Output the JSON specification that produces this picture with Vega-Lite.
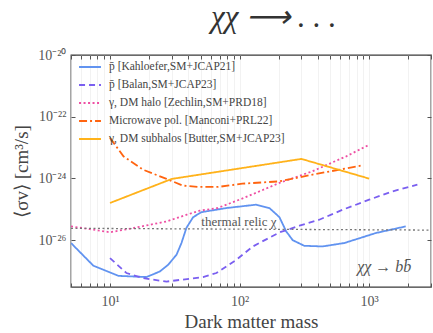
{
  "$schema": "https://vega.github.io/schema/vega-lite/v6.json",
  "width": 360,
  "height": 232,
  "autosize": "none",
  "padding": {"left": 71, "top": 55, "right": 2, "bottom": 46},
  "background": "white",
  "title": {
    "text": "χχ ⟶ . . .",
    "anchor": "start",
    "frame": "group",
    "dx": 140,
    "offset": 14,
    "font": "Liberation Serif",
    "fontStyle": "italic",
    "fontWeight": "normal",
    "fontSize": 31,
    "color": "#333333"
  },
  "config": {
    "view": {"stroke": "#3a3a3a", "strokeWidth": 1.3},
    "font": "Liberation Serif",
    "axis": {
      "domain": false,
      "labelFont": "Liberation Serif",
      "titleFont": "Liberation Serif",
      "labelColor": "#555555",
      "titleColor": "#444444",
      "tickColor": "#555555",
      "titleFontWeight": "normal"
    },
    "legend": {"labelFont": "Liberation Serif"}
  },
  "datasets": {
    "curves": [
      {"series": "Kahloefer", "mass": 5, "sv": 8.0e-27},
      {"series": "Kahloefer", "mass": 7.44, "sv": 1.47e-27},
      {"series": "Kahloefer", "mass": 11.6, "sv": 6.9e-28},
      {"series": "Kahloefer", "mass": 19.1, "sv": 6.3e-28},
      {"series": "Kahloefer", "mass": 24.3, "sv": 9.6e-28},
      {"series": "Kahloefer", "mass": 28.1, "sv": 1.58e-27},
      {"series": "Kahloefer", "mass": 32.6, "sv": 3.33e-27},
      {"series": "Kahloefer", "mass": 35.6, "sv": 8.0e-27},
      {"series": "Kahloefer", "mass": 38.9, "sv": 2.5e-26},
      {"series": "Kahloefer", "mass": 43.8, "sv": 5.5e-26},
      {"series": "Kahloefer", "mass": 50.7, "sv": 8.0e-26},
      {"series": "Kahloefer", "mass": 79, "sv": 1.09e-25},
      {"series": "Kahloefer", "mass": 134, "sv": 1.4e-25},
      {"series": "Kahloefer", "mass": 170, "sv": 1.09e-25},
      {"series": "Kahloefer", "mass": 203, "sv": 5.5e-26},
      {"series": "Kahloefer", "mass": 229, "sv": 1.9e-26},
      {"series": "Kahloefer", "mass": 257, "sv": 9.9e-27},
      {"series": "Kahloefer", "mass": 316, "sv": 6.5e-27},
      {"series": "Kahloefer", "mass": 437, "sv": 6.2e-27},
      {"series": "Kahloefer", "mass": 643, "sv": 8.0e-27},
      {"series": "Kahloefer", "mass": 1127, "sv": 1.69e-26},
      {"series": "Kahloefer", "mass": 1915, "sv": 2.77e-26},

      {"series": "Balan", "mass": 10, "sv": 2.6e-27},
      {"series": "Balan", "mass": 13.4, "sv": 8.5e-28},
      {"series": "Balan", "mass": 18.0, "sv": 5.8e-28},
      {"series": "Balan", "mass": 27.3, "sv": 4.5e-28},
      {"series": "Balan", "mass": 52.2, "sv": 6.3e-28},
      {"series": "Balan", "mass": 66.2, "sv": 8.5e-28},
      {"series": "Balan", "mass": 94.4, "sv": 2.29e-27},
      {"series": "Balan", "mass": 126.6, "sv": 6.2e-27},
      {"series": "Balan", "mass": 203, "sv": 1.77e-26},
      {"series": "Balan", "mass": 290, "sv": 2.91e-26},
      {"series": "Balan", "mass": 412, "sv": 4.56e-26},
      {"series": "Balan", "mass": 624, "sv": 9.6e-26},
      {"series": "Balan", "mass": 1000, "sv": 2.03e-25},
      {"series": "Balan", "mass": 1510, "sv": 3.78e-25},
      {"series": "Balan", "mass": 2355, "sv": 6.24e-25},

      {"series": "Zechlin", "mass": 5, "sv": 2.77e-26},
      {"series": "Zechlin", "mass": 7.0, "sv": 2.25e-26},
      {"series": "Zechlin", "mass": 10, "sv": 1.79e-26},
      {"series": "Zechlin", "mass": 15.0, "sv": 2.42e-26},
      {"series": "Zechlin", "mass": 27.4, "sv": 4.02e-26},
      {"series": "Zechlin", "mass": 39.1, "sv": 6.63e-26},
      {"series": "Zechlin", "mass": 49.2, "sv": 8.93e-26},
      {"series": "Zechlin", "mass": 67.7, "sv": 1.09e-25},
      {"series": "Zechlin", "mass": 109, "sv": 2.36e-25},
      {"series": "Zechlin", "mass": 203, "sv": 7.1e-25},
      {"series": "Zechlin", "mass": 364, "sv": 1.69e-24},
      {"series": "Zechlin", "mass": 665, "sv": 5.18e-24},
      {"series": "Zechlin", "mass": 982, "sv": 1.18e-23},

      {"series": "Manconi", "mass": 10, "sv": 2.05e-23},
      {"series": "Manconi", "mass": 12.7, "sv": 5.18e-24},
      {"series": "Manconi", "mass": 18.0, "sv": 1.91e-24},
      {"series": "Manconi", "mass": 27.3, "sv": 9.6e-25},
      {"series": "Manconi", "mass": 36.6, "sv": 5.8e-25},
      {"series": "Manconi", "mass": 49.2, "sv": 5.26e-25},
      {"series": "Manconi", "mass": 68.1, "sv": 5.26e-25},
      {"series": "Manconi", "mass": 105, "sv": 6.73e-25},
      {"series": "Manconi", "mass": 203, "sv": 8.0e-25},
      {"series": "Manconi", "mass": 366, "sv": 1.32e-24},
      {"series": "Manconi", "mass": 887, "sv": 2.64e-24},

      {"series": "Butter", "mass": 10, "sv": 1.59e-25},
      {"series": "Butter", "mass": 30, "sv": 9.6e-25},
      {"series": "Butter", "mass": 300, "sv": 4.27e-24},
      {"series": "Butter", "mass": 1000, "sv": 9.8e-25}
    ],
    "relic": [
      {"mass": 5, "sv": 2.4e-26},
      {"mass": 3000, "sv": 2.1e-26}
    ],
    "notes": [
      {"mass": 50.7, "sv": 2.8e-26, "label": "thermal relic χ", "kind": "relic"},
      {"mass": 809, "sv": 9.3e-28, "label": "χχ → bb̄", "kind": "channel"}
    ]
  },
  "resolve": {"axis": {"x": "independent", "y": "independent"}},
  "layer": [
    {
      "data": {"name": "curves"},
      "mark": {"type": "line", "strokeWidth": 1.8, "clip": true},
      "encoding": {
        "x": {
          "field": "mass", "type": "quantitative",
          "scale": {"type": "log", "domain": [5, 3000], "nice": false},
          "axis": {
            "orient": "bottom",
            "title": "Dark matter mass",
            "titleFontSize": 19,
            "titlePadding": 4,
            "values": [5, 6, 7, 8, 9, 10, 20, 30, 40, 50, 60, 70, 80, 90, 100, 200, 300, 400, 500, 600, 700, 800, 900, 1000, 2000, 3000],
            "labelExpr": "datum.value == 10 ? '10¹' : datum.value == 100 ? '10²' : datum.value == 1000 ? '10³' : ''",
            "labelFontSize": 14,
            "labelPadding": 11,
            "tickSize": -4,
            "grid": true,
            "gridColor": "#efefef",
            "gridWidth": 0.8
          }
        },
        "y": {
          "field": "sv", "type": "quantitative",
          "scale": {"type": "log", "domain": [3e-28, 1e-20], "nice": false},
          "axis": {
            "orient": "left",
            "title": "⟨σv⟩ [cm³/s]",
            "titleFontSize": 19,
            "titlePadding": 6,
            "values": [1e-26, 1e-24, 1e-22, 1e-20],
            "labelExpr": "datum.value == 1e-20 ? '10⁻²⁰' : datum.value == 1e-22 ? '10⁻²²' : datum.value == 1e-24 ? '10⁻²⁴' : '10⁻²⁶'",
            "labelFontSize": 14,
            "labelPadding": 9,
            "tickSize": -4,
            "grid": false
          }
        },
        "color": {
          "field": "series", "type": "nominal",
          "scale": {
            "domain": ["Kahloefer", "Balan", "Zechlin", "Manconi", "Butter"],
            "range": ["#6193f0", "#7a5ff0", "#ee4fa3", "#ff6410", "#ffb21a"]
          },
          "legend": {
            "orient": "none",
            "legendX": 7,
            "legendY": 0,
            "title": null,
            "labelFont": "Liberation Serif",
            "labelFontSize": 11.5,
            "labelColor": "#444444",
            "labelLimit": 400,
            "symbolType": "stroke",
            "symbolSize": 480,
            "symbolStrokeWidth": 2,
            "rowPadding": -8,
            "labelOffset": 7,
            "labelExpr": "datum.value == 'Kahloefer' ? 'p̄ [Kahloefer,SM+JCAP21]' : datum.value == 'Balan' ? 'p̄ [Balan,SM+JCAP23]' : datum.value == 'Zechlin' ? 'γ, DM halo [Zechlin,SM+PRD18]' : datum.value == 'Manconi' ? 'Microwave pol. [Manconi+PRL22]' : 'γ, DM subhalos [Butter,SM+JCAP23]'"
          }
        },
        "strokeDash": {
          "field": "series", "type": "nominal",
          "scale": {
            "domain": ["Kahloefer", "Balan", "Zechlin", "Manconi", "Butter"],
            "range": [[1, 0], [6, 4], [2, 2.5], [8, 3, 2, 3], [1, 0]]
          },
          "legend": null
        }
      }
    },
    {
      "data": {"name": "relic"},
      "mark": {"type": "line", "color": "#777777", "strokeWidth": 1.3, "strokeDash": [2, 2.5]},
      "encoding": {
        "x": {"field": "mass", "type": "quantitative", "axis": null},
        "y": {"field": "sv", "type": "quantitative", "axis": null}
      }
    },
    {
      "data": {"name": "notes"},
      "transform": [{"filter": "datum.kind == 'relic'"}],
      "mark": {"type": "text", "align": "left", "baseline": "alphabetic", "font": "Liberation Serif", "fontSize": 13, "color": "#555555"},
      "encoding": {
        "x": {"field": "mass", "type": "quantitative", "axis": null},
        "y": {"field": "sv", "type": "quantitative", "axis": null},
        "text": {"field": "label"}
      }
    },
    {
      "data": {"name": "notes"},
      "transform": [{"filter": "datum.kind == 'channel'"}],
      "mark": {"type": "text", "align": "left", "baseline": "alphabetic", "font": "Liberation Serif", "fontStyle": "italic", "fontSize": 16, "color": "#555555"},
      "encoding": {
        "x": {"field": "mass", "type": "quantitative", "axis": null},
        "y": {"field": "sv", "type": "quantitative", "axis": null},
        "text": {"field": "label"}
      }
    },
    {
      "data": {"name": "relic"},
      "mark": {"type": "point", "opacity": 0},
      "encoding": {
        "x": {
          "field": "mass", "type": "quantitative",
          "axis": {
            "orient": "top", "title": null, "labels": false, "grid": false, "tickSize": -4,
            "values": [5, 6, 7, 8, 9, 10, 20, 30, 40, 50, 60, 70, 80, 90, 100, 200, 300, 400, 500, 600, 700, 800, 900, 1000, 2000, 3000]
          }
        },
        "y": {
          "field": "sv", "type": "quantitative",
          "axis": {
            "orient": "right", "title": null, "labels": false, "grid": false, "tickSize": -4,
            "values": [1e-26, 1e-24, 1e-22, 1e-20]
          }
        }
      }
    }
  ]
}
